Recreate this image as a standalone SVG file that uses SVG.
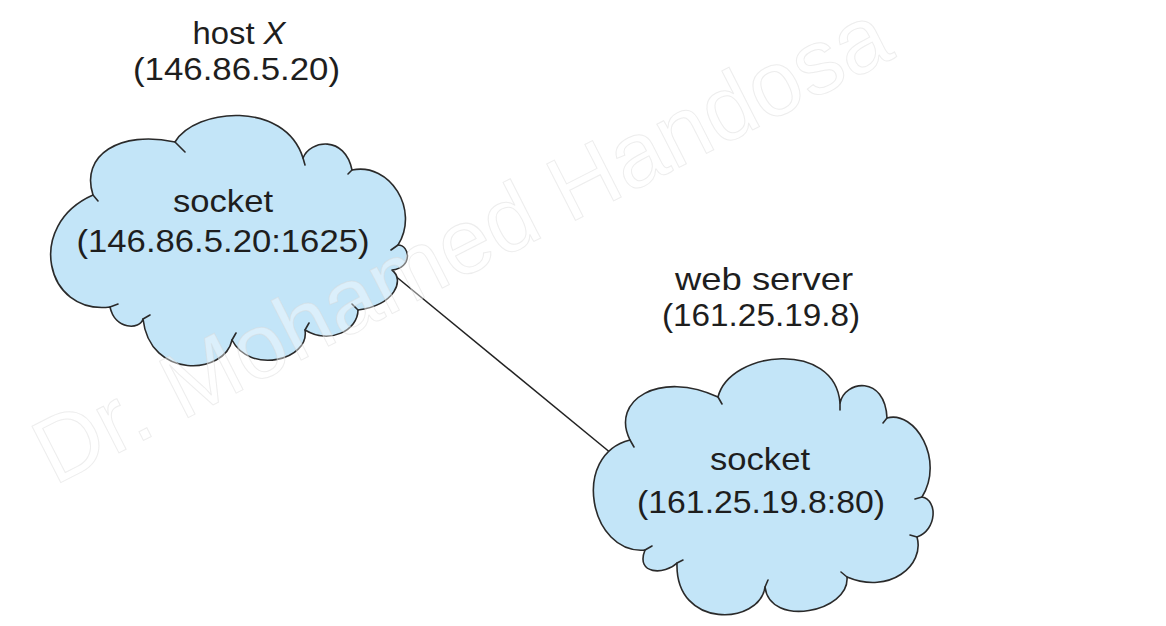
<svg xmlns="http://www.w3.org/2000/svg" width="1166" height="626" viewBox="0 0 1166 626">
<style>
.cloud{fill:#c3e5f8;stroke:#2a2a2a;stroke-width:1.6;stroke-linejoin:round}
.tail{fill:none;stroke:#2a2a2a;stroke-width:1.6;stroke-linecap:round}
.lbl{font-family:"Liberation Sans",Arial,sans-serif;font-size:32px;fill:#1e1e1e;text-anchor:middle}
.wm{font-family:"Liberation Sans",Arial,sans-serif;font-size:92px;fill:#ffffff;fill-opacity:0.4;stroke:#d8d8d8;stroke-opacity:0.45;stroke-width:1}
</style>
<rect width="1166" height="626" fill="#ffffff"/>
<g id="connectors">
<line x1="388" y1="270" x2="623" y2="463" stroke="#222" stroke-width="1.5"/>
</g>
<g id="hostX">
<path class="cloud" d="M175,142 C195,108 285,100 303,158 C310,140 345,135 352,170 C390,162 420,210 398,245 C410,245 413,268 392,270 C405,280 395,305 358,310 C358,330 330,345 305,330 C310,360 250,375 232,340 C225,375 150,380 143,319 C140,330 115,330 110,307 C45,315 25,225 93,195 C80,155 120,130 175,142 Z"/>
<path class="tail" d="M175,142 L185,152 M303,158 L305,165 M352,170 L348,174 M398,245 L391,250 M358,310 L352,304 M305,330 L309,323 M232,340 L236,333 M143,319 L150,315 M110,307 L118,304 M93,195 L98,201"/>
<text class="lbl" x="239" y="44" textLength="93" lengthAdjust="spacingAndGlyphs">host <tspan font-style="italic">X</tspan></text>
<text class="lbl" x="236.5" y="80" textLength="207" lengthAdjust="spacingAndGlyphs">(146.86.5.20)</text>
<text class="lbl" x="223" y="212" textLength="100" lengthAdjust="spacingAndGlyphs">socket</text>
<text class="lbl" x="223" y="252" textLength="293" lengthAdjust="spacingAndGlyphs">(146.86.5.20:1625)</text>
</g>
<g id="webServer">
<path class="cloud" d="M718,397 C730,350 835,340 840,403 C845,380 885,375 887,418 C915,410 945,460 922,497 C938,500 937,530 917,537 C925,565 890,595 847,577 C850,612 770,628 765,587 C760,625 675,630 677,563 C665,575 635,575 645,550 C590,555 570,455 630,440 C610,400 660,370 718,397 Z"/>
<path class="tail" d="M718,397 L722,404 M840,403 L840,410 M887,418 L883,423 M922,497 L915,499 M917,537 L910,535 M847,577 L841,572 M765,587 L768,580 M677,563 L683,560 M645,550 L652,546 M630,440 L634,447"/>
<text class="lbl" x="764" y="290" textLength="178" lengthAdjust="spacingAndGlyphs">web server</text>
<text class="lbl" x="761" y="326" textLength="198" lengthAdjust="spacingAndGlyphs">(161.25.19.8)</text>
<text class="lbl" x="760" y="470" textLength="100" lengthAdjust="spacingAndGlyphs">socket</text>
<text class="lbl" x="761" y="513" textLength="248" lengthAdjust="spacingAndGlyphs">(161.25.19.8:80)</text>
</g>
<text class="wm" transform="translate(54,486) rotate(-27)">Dr. Mohamed Handosa</text>
</svg>
